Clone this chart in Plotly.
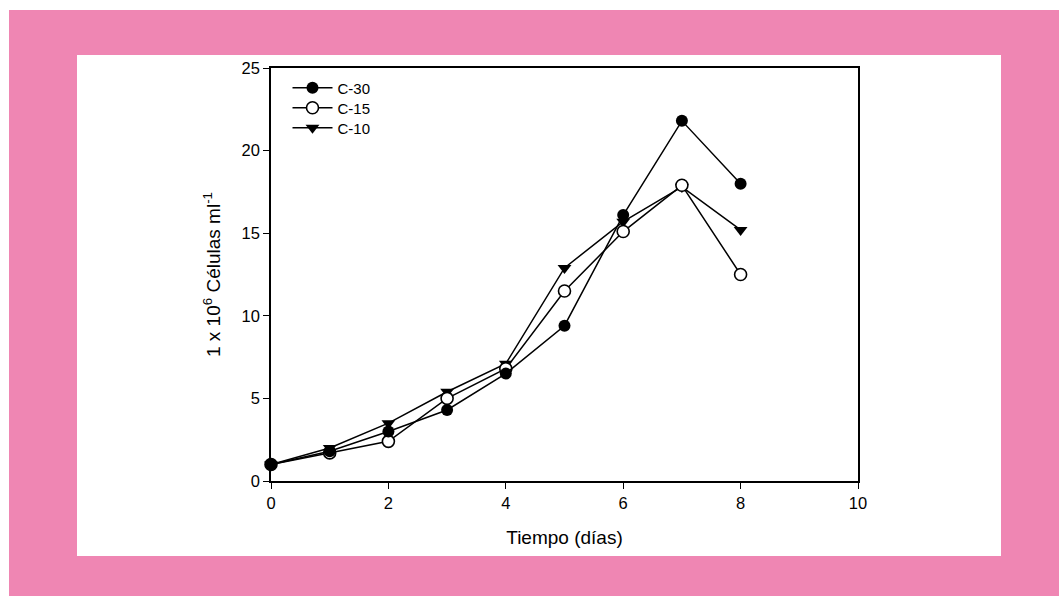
import plotly.graph_objects as go

days = [0, 1, 2, 3, 4, 5, 6, 7, 8]
c30 = [1.0, 1.8, 3.0, 4.3, 6.5, 9.4, 16.1, 21.8, 18.0]
c15 = [1.0, 1.7, 2.4, 5.0, 6.8, 11.5, 15.1, 17.9, 12.5]
c10 = [1.0, 2.0, 3.5, 5.4, 7.1, 12.9, 15.7, 17.8, 15.2]
x_ticks = [0, 2, 4, 6, 8, 10]
y_ticks = [0, 5, 10, 15, 20, 25]

FONT = "Liberation Sans, Arial, sans-serif"
PINK = "#EF86B3"

L, R, T, B = 271, 858, 68, 481
W, H = 1059, 596
pw, ph = R - L, B - T


def px(x):
    return (x - L) / pw


def py(y):
    return (B - y) / ph


fig = go.Figure()
fig.add_trace(go.Scatter(x=days, y=c10, name="C-10", mode="lines+markers",
                         line=dict(color="black", width=1.5),
                         marker=dict(symbol="triangle-down", size=12, color="black"),
                         cliponaxis=False, legend="legend3"))
fig.add_trace(go.Scatter(x=days, y=c15, name="C-15", mode="lines+markers",
                         line=dict(color="black", width=1.5),
                         marker=dict(symbol="circle", size=12, color="white",
                                     line=dict(color="black", width=1.6)),
                         cliponaxis=False, legend="legend2"))
fig.add_trace(go.Scatter(x=days, y=c30, name="C-30", mode="lines+markers",
                         line=dict(color="black", width=1.5),
                         marker=dict(symbol="circle", size=12, color="black"),
                         cliponaxis=False, legend="legend"))

fig.add_shape(type="rect", xref="paper", yref="paper", layer="below",
              x0=px(9), x1=px(1060), y0=py(597), y1=py(10),
              fillcolor=PINK, line=dict(width=0))
fig.add_shape(type="rect", xref="paper", yref="paper", layer="below",
              x0=px(77), x1=px(1001), y0=py(556), y1=py(55),
              fillcolor="white", line=dict(width=0))

axis_common = dict(showline=True, linecolor="black", linewidth=1.5, mirror=True,
                   ticks="outside", ticklen=6, tickwidth=1.3, tickcolor="black",
                   showgrid=False, zeroline=False,
                   tickfont=dict(family=FONT, size=16.5, color="black"))

fig.update_xaxes(range=[0, 10], tickvals=x_ticks,
                 title=dict(text="Tiempo (días)", font=dict(family=FONT, size=19, color="black"), standoff=20),
                 **axis_common)
fig.update_yaxes(range=[0, 25], tickvals=y_ticks,
                 title=dict(text="1 x 10<sup>6</sup> Células ml<sup>-1</sup>",
                            font=dict(family=FONT, size=19, color="black"), standoff=16),
                 **axis_common)

leg_common = dict(xanchor="left", yanchor="middle", bgcolor="rgba(0,0,0,0)",
                  font=dict(family=FONT, size=15, color="black"),
                  itemwidth=40, borderwidth=0)
legend_rows = {"legend": 88, "legend2": 108, "legend3": 128}
layout_legends = {k: dict(x=px(287.5), y=py(v), **leg_common) for k, v in legend_rows.items()}

fig.update_layout(
    width=W, height=H,
    margin=dict(l=L, r=W - R, t=T, b=H - B),
    paper_bgcolor="white", plot_bgcolor="rgba(0,0,0,0)",
    showlegend=True,
    **layout_legends,
)

fig.write_html("out.html")
